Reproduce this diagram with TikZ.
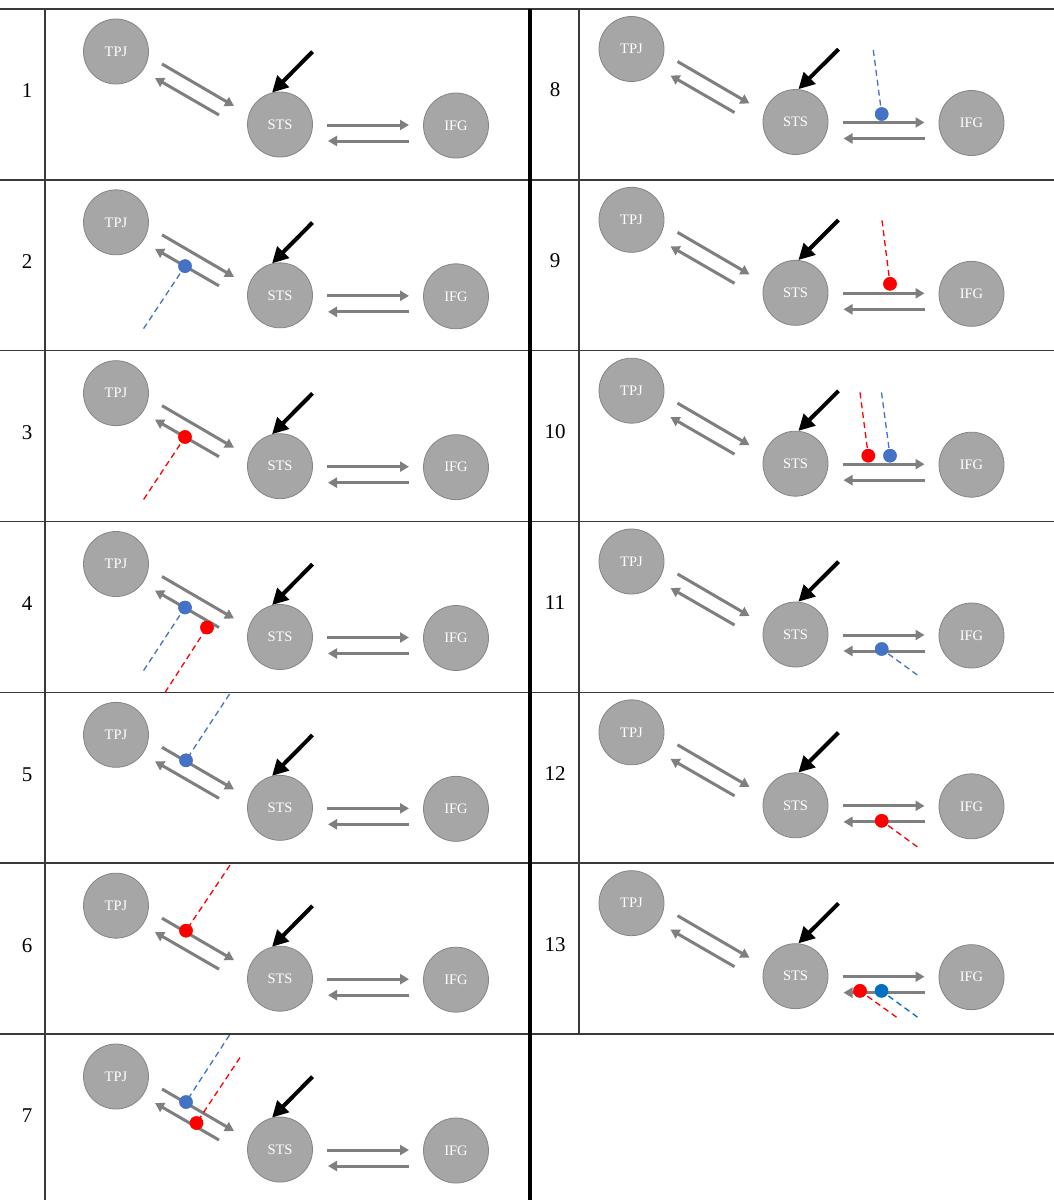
\documentclass[tikz,border=0pt]{standalone}
\usepackage{fontspec}
\setmainfont{Liberation Serif}
\usetikzlibrary{arrows.meta}
\definecolor{circfill}{HTML}{A6A6A6}
\definecolor{circline}{HTML}{858585}
\definecolor{arrgrey}{HTML}{7F7F7F}
\definecolor{dotblue}{HTML}{4472C4}
\definecolor{dotbluetwo}{HTML}{0070C0}
\definecolor{dotred}{HTML}{FF0000}
\definecolor{rulegrey}{HTML}{3A3A3A}
\tikzset{
 region/.style={circle, fill=circfill, draw=circline, line width=0.8pt, minimum size=65pt, inner sep=0pt, text=white, font=\fontsize{14.5}{14.5}\selectfont},
 conn/.style={draw=arrgrey, line width=3pt, -{Triangle[length=9pt,width=10pt]}},
 stim/.style={draw=black, line width=4pt, -{Triangle[length=16pt,width=16pt]}},
 probe/.style={line width=1.3pt, dash pattern=on 6pt off 4pt},
 dotmark/.style={circle, inner sep=0pt, minimum size=13.5pt},
 rownum/.style={font=\fontsize{21}{21}\selectfont},
 rule/.style={draw=rulegrey, line width=1.4pt},
}
% #1 id, #2 ox, #3 oy, #4 black arrow dx, #5 tip anchor angle
\newcommand{\basecell}[5]{%
\begin{scope}[shift={(#2,#3)}]
 \node[region] (tpj#1) at (116,42.5) {TPJ};
 \node[region] (sts#1) at (280,115.5) {STS};
 \node[region] (ifg#1) at (456,116.5) {IFG};
 \coordinate (ua#1) at (162,55); \coordinate (ub#1) at (234,97);
 \coordinate (la#1) at (219,106); \coordinate (lb#1) at (155,69);
 \coordinate (ha#1) at (327,116); \coordinate (hb#1) at (409,116);
 \coordinate (ka#1) at (409,132); \coordinate (kb#1) at (328,132);
 \coordinate (st#1) at (312.5+#4,42.7);
 \draw[conn] (ua#1) -- (ub#1);
 \draw[conn] (la#1) -- (lb#1);
 \draw[conn] (ha#1) -- (hb#1);
 \draw[conn] (ka#1) -- (kb#1);
 \draw[stim] (st#1) -- (sts#1.#5);
\end{scope}}
% #1 name, #2 ox, #3 oy, #4 colour, #5 dot pos, #6 dash end
\newcommand{\probe}[6]{%
\begin{scope}[shift={(#2,#3)}]
 \node[dotmark, fill=#4] (d#1) at (#5) {};
 \coordinate (e#1) at (#6);
 \draw[probe, draw=#4] (e#1) -- (d#1.center);
 \node[dotmark, fill=#4] at (d#1) {};
\end{scope}}
\begin{document}
\begin{tikzpicture}[x=1pt,y=-1pt]
\fill[white] (0,0) rectangle (1054,1200);
\useasboundingbox (0,0) rectangle (1054,1200);
% left column
\basecell{c1}{0}{9}{0}{104}
\basecell{c2}{0}{179.83}{0}{104}
\basecell{c3}{0}{350.67}{0}{104}
\basecell{c4}{0}{521.5}{0}{104}
\basecell{c5}{0}{692.33}{0}{104}
\basecell{c6}{0}{863.17}{0}{104}
\basecell{c7}{0}{1034}{0}{104}
% right column
\basecell{c8}{515.5}{6.5}{10.5}{85}
\basecell{c9}{515.5}{177.33}{10.5}{85}
\basecell{c10}{515.5}{348.17}{10.5}{85}
\basecell{c11}{515.5}{519}{10.5}{85}
\basecell{c12}{515.5}{689.83}{10.5}{85}
\basecell{c13}{515.5}{860.67}{10.5}{85}
% probes
\probe{p2b}{0}{179.83}{dotblue}{185,86.3}{143.6,148.8}
\probe{p3r}{0}{350.67}{dotred}{185,86.3}{143.6,148.8}
\probe{p4b}{0}{521.5}{dotblue}{185,86}{143.6,149}
\probe{p4r}{0}{521.5}{dotred}{207,106}{165,171}
\probe{p5b}{0}{692.33}{dotblue}{186,68}{229.5,1.8}
\probe{p6r}{0}{863.17}{dotred}{186,67.5}{230,2}
\probe{p7b}{0}{1034}{dotblue}{186,68}{229.5,1}
\probe{p7r}{0}{1034}{dotred}{196.5,89}{240,23.5}
\probe{p8b}{515.5}{6.5}{dotblue}{366.2,107.5}{357.8,43.5}
\probe{p9r}{515.5}{177.33}{dotred}{374.5,106.5}{366.5,43}
\probe{p10r}{515.5}{348.17}{dotred}{352.8,107.5}{344.5,44.2}
\probe{p10b}{515.5}{348.17}{dotblue}{374.5,107.5}{366,44.2}
\probe{p11b}{515.5}{519}{dotblue}{366.2,130}{401.8,156}
\probe{p12r}{515.5}{689.83}{dotred}{366.2,131}{401.8,157}
\probe{p13r}{515.5}{860.67}{dotred}{344.5,130.2}{381,156.5}
\probe{p13b}{515.5}{860.67}{dotbluetwo}{366,130.2}{402,156.5}
% row numbers
\node[rownum] (n1) at (27,91) {1};
\node[rownum] (n2) at (27,261.83) {2};
\node[rownum] (n3) at (27,432.67) {3};
\node[rownum] (n4) at (27,603.5) {4};
\node[rownum] (n5) at (27,774.33) {5};
\node[rownum] (n6) at (27,945.17) {6};
\node[rownum] (n7) at (27,1116) {7};
\node[rownum] (n8) at (555,90) {8};
\node[rownum] (n9) at (555,260.83) {9};
\node[rownum] (n10) at (555,431.67) {10};
\node[rownum] (n11) at (555,602.5) {11};
\node[rownum] (n12) at (555,773.33) {12};
\node[rownum] (n13) at (555,944.17) {13};
% table rules
\foreach \yy in {9,179.83,350.67,521.5,692.33,863.17,1034}{
 \draw[rule] (0,\yy) -- (1054,\yy);
}
\draw[rule] (45,9) -- (45,1200);
\draw[rule] (579,9) -- (579,1034);
\draw[draw=black, line width=3.4pt] (530,9) -- (530,1200);
\end{tikzpicture}
\end{document}
